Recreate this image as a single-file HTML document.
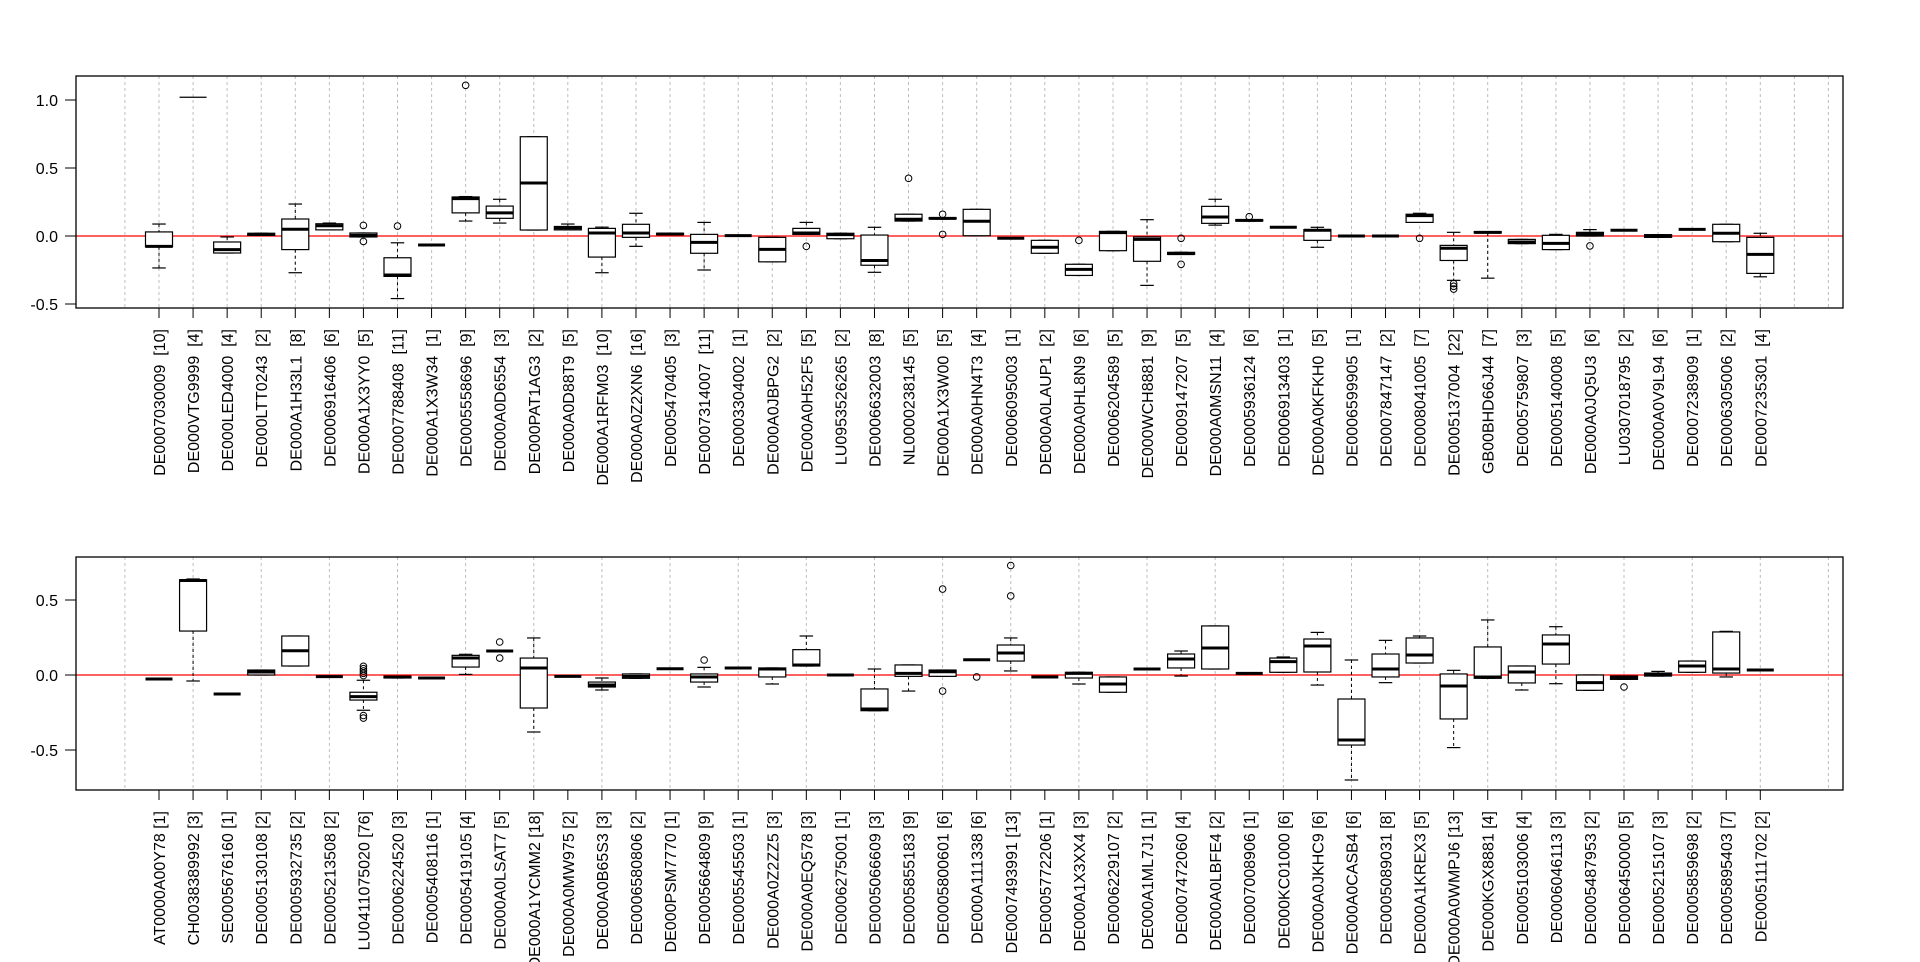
<!DOCTYPE html>
<html><head><meta charset="utf-8"><style>
html,body{margin:0;padding:0;background:#fff;}
svg{display:block;}
text{font-family:"Liberation Sans",Arial,sans-serif;font-size:16px;fill:#000;}
</style></head><body>
<svg id="s" width="1920" height="962" xmlns="http://www.w3.org/2000/svg"></svg>
<script>
var top_=[
["DE0007030009  [10]",-0.235,-0.08,-0.076,0.03,0.088,[]],
["DE000VTG9999  [4]",1.02,1.02,1.02,1.02,1.02,[],1],
["DE000LED4000  [4]",-0.125,-0.125,-0.10,-0.044,-0.007,[]],
["DE000LTT0243  [2]",0.005,0.005,0.012,0.02,0.02,[]],
["DE000A1H33L1  [8]",-0.27,-0.10,0.05,0.125,0.235,[]],
["DE0006916406  [6]",0.045,0.045,0.075,0.09,0.095,[]],
["DE000A1X3YY0  [5]",-0.007,-0.007,0.005,0.022,0.022,[0.078,-0.04]],
["DE0007788408  [11]",-0.46,-0.297,-0.287,-0.16,-0.05,[0.073]],
["DE000A1X3W34  [1]",-0.066,-0.066,-0.066,-0.066,-0.066,[]],
["DE0005558696  [9]",0.11,0.17,0.275,0.287,0.29,[1.108]],
["DE000A0D6554  [3]",0.095,0.13,0.17,0.22,0.27,[]],
["DE000PAT1AG3  [2]",0.044,0.044,0.39,0.73,0.73,[]],
["DE000A0D88T9  [5]",0.045,0.045,0.06,0.07,0.088,[]],
["DE000A1RFM03  [10]",-0.27,-0.155,0.022,0.056,0.065,[]],
["DE000A0Z2XN6  [16]",-0.076,-0.01,0.022,0.086,0.167,[]],
["DE0005470405  [3]",0.01,0.01,0.015,0.02,0.02,[]],
["DE0007314007  [11]",-0.25,-0.127,-0.047,0.012,0.1,[]],
["DE0003304002  [1]",0.003,0.003,0.003,0.003,0.003,[]],
["DE000A0JBPG2  [2]",-0.19,-0.19,-0.098,-0.01,-0.01,[]],
["DE000A0H52F5  [5]",0.012,0.012,0.022,0.056,0.1,[-0.076]],
["LU0953526265  [2]",-0.02,-0.02,0.01,0.02,0.02,[]],
["DE0006632003  [8]",-0.267,-0.215,-0.18,0.007,0.064,[]],
["NL0000238145  [5]",0.11,0.11,0.123,0.16,0.16,[0.424]],
["DE000A1X3W00  [5]",0.125,0.125,0.13,0.135,0.135,[0.16,0.012]],
["DE000A0HN4T3  [4]",0.002,0.002,0.108,0.196,0.196,[]],
["DE0006095003  [1]",-0.017,-0.017,-0.017,-0.017,-0.017,[]],
["DE000A0LAUP1  [2]",-0.127,-0.127,-0.083,-0.032,-0.032,[]],
["DE000A0HL8N9  [6]",-0.29,-0.29,-0.245,-0.208,-0.208,[-0.032]],
["DE0006204589  [5]",-0.108,-0.108,0.025,0.034,0.034,[]],
["DE000WCH8881  [9]",-0.363,-0.186,-0.025,-0.007,0.12,[]],
["DE0009147207  [5]",-0.135,-0.135,-0.13,-0.12,-0.12,[-0.017,-0.208]],
["DE000A0MSN11  [4]",0.08,0.093,0.14,0.218,0.27,[]],
["DE0005936124  [6]",0.11,0.11,0.115,0.12,0.12,[0.142]],
["DE0006913403  [1]",0.064,0.064,0.064,0.064,0.064,[]],
["DE000A0KFKH0  [5]",-0.083,-0.032,0.042,0.047,0.064,[]],
["DE0006599905  [1]",0,0,0,0,0,[]],
["DE0007847147  [2]",0,0,0,0,0,[]],
["DE0008041005  [7]",0.1,0.1,0.15,0.16,0.167,[-0.017]],
["DE0005137004  [22]",-0.326,-0.18,-0.09,-0.069,0.027,[-0.35,-0.37,-0.39]],
["GB00BHD66J44  [7]",-0.31,0.022,0.027,0.032,0.032,[]],
["DE0005759807  [3]",-0.056,-0.056,-0.044,-0.025,-0.025,[]],
["DE0005140008  [5]",-0.1,-0.1,-0.054,0.005,0.012,[]],
["DE000A0JQ5U3  [6]",0,0,0.015,0.027,0.047,[-0.073]],
["LU0307018795  [2]",0.042,0.042,0.042,0.042,0.042,[]],
["DE000A0V9L94  [6]",-0.01,-0.01,0,0.01,0.01,[]],
["DE0007238909  [1]",0.049,0.049,0.049,0.049,0.049,[]],
["DE0006305006  [2]",-0.042,-0.042,0.02,0.086,0.086,[]],
["DE0007235301  [4]",-0.3,-0.275,-0.135,-0.01,0.02,[]]
];
var bot=[
["AT0000A00Y78 [1]",-0.027,-0.027,-0.027,-0.027,-0.027,[]],
["CH0038389992 [3]",-0.04,0.293,0.63,0.635,0.64,[]],
["SE0005676160 [1]",-0.127,-0.127,-0.127,-0.127,-0.127,[]],
["DE0005130108 [2]",0,0,0.02,0.033,0.033,[]],
["DE0005932735 [2]",0.06,0.06,0.162,0.26,0.26,[]],
["DE0005213508 [2]",-0.011,-0.011,-0.011,-0.011,-0.011,[]],
["LU0411075020 [76]",-0.235,-0.167,-0.144,-0.115,-0.035,[0.058,0.042,0.027,0.011,-0.004,-0.27,-0.287]],
["DE0006224520 [3]",-0.02,-0.02,-0.013,-0.008,-0.008,[]],
["DE0005408116 [1]",-0.02,-0.02,-0.02,-0.02,-0.02,[]],
["DE0005419105 [4]",0.004,0.053,0.113,0.131,0.138,[]],
["DE000A0LSAT7 [5]",0.16,0.16,0.16,0.16,0.16,[0.22,0.113]],
["DE000A1YCMM2 [18]",-0.38,-0.22,0.047,0.113,0.247,[]],
["DE000A0MW975 [2]",-0.009,-0.009,-0.009,-0.009,-0.009,[]],
["DE000A0B65S3 [3]",-0.1,-0.08,-0.067,-0.047,-0.02,[]],
["DE0006580806 [2]",-0.022,-0.022,-0.009,0.007,0.007,[]],
["DE000PSM7770 [1]",0.042,0.042,0.042,0.042,0.042,[]],
["DE0005664809 [9]",-0.08,-0.047,-0.013,0.007,0.051,[0.1]],
["DE0005545503 [1]",0.047,0.047,0.047,0.047,0.047,[]],
["DE000A0Z2ZZ5 [3]",-0.06,-0.013,0.04,0.047,0.047,[]],
["DE000A0EQ578 [3]",0.06,0.06,0.067,0.169,0.26,[]],
["DE0006275001 [1]",0,0,0,0,0,[]],
["DE0005066609 [3]",-0.238,-0.238,-0.227,-0.093,0.04,[]],
["DE0005855183 [9]",-0.107,-0.009,0.011,0.067,0.067,[]],
["DE0005800601 [6]",-0.009,-0.009,0.022,0.033,0.033,[0.573,-0.107]],
["DE000A111338 [6]",0.102,0.102,0.102,0.102,0.102,[-0.013]],
["DE0007493991 [13]",0.027,0.093,0.147,0.2,0.247,[0.73,0.527]],
["DE0005772206 [1]",-0.013,-0.013,-0.013,-0.013,-0.013,[]],
["DE000A1X3XX4 [3]",-0.06,-0.02,0.011,0.018,0.018,[]],
["DE0006229107 [2]",-0.115,-0.115,-0.06,-0.013,-0.013,[]],
["DE000A1ML7J1 [1]",0.04,0.04,0.04,0.04,0.04,[]],
["DE0007472060 [4]",-0.007,0.047,0.107,0.14,0.16,[]],
["DE000A0LBFE4 [2]",0.04,0.04,0.18,0.327,0.327,[]],
["DE0007008906 [1]",0.011,0.011,0.011,0.011,0.011,[]],
["DE000KC01000 [6]",0.018,0.018,0.089,0.113,0.12,[]],
["DE000A0JKHC9 [6]",-0.067,0.02,0.193,0.24,0.284,[]],
["DE000A0CASB4 [6]",-0.7,-0.467,-0.433,-0.16,0.1,[]],
["DE0005089031 [8]",-0.051,-0.013,0.04,0.14,0.231,[]],
["DE000A1KREX3 [5]",0.08,0.08,0.133,0.247,0.26,[]],
["DE000A0WMPJ6 [13]",-0.484,-0.293,-0.073,0.007,0.031,[]],
["DE000KGX8881 [4]",-0.022,-0.022,-0.013,0.187,0.367,[]],
["DE0005103006 [4]",-0.1,-0.053,0.02,0.06,0.06,[]],
["DE0006046113 [3]",-0.058,0.073,0.207,0.267,0.322,[]],
["DE0005487953 [2]",-0.102,-0.102,-0.051,0,0,[]],
["DE0006450000 [5]",-0.029,-0.029,-0.018,-0.007,-0.007,[-0.08]],
["DE0005215107 [3]",-0.007,-0.007,0.004,0.013,0.024,[]],
["DE0005859698 [2]",0.018,0.018,0.06,0.093,0.093,[]],
["DE0005895403 [7]",-0.013,0.013,0.04,0.287,0.291,[]],
["DE0005111702 [2]",0.033,0.033,0.033,0.033,0.033,[]]
];
var svg=document.getElementById("s"),out=[];
function X(i){return 159+i*34.07;}
function panel(data,y0,sc,top,bottom,ticks,gridStep,labY){
  var L=76,R=1843;
  for(var g=-1;g<=49;g+=gridStep){var gx=X(g).toFixed(1);out.push('<line x1="'+gx+'" x2="'+gx+'" y1="'+top+'" y2="'+bottom+'" stroke="#bdbdbd" stroke-dasharray="3,3"/>');}
  out.push('<line x1="'+L+'" x2="'+R+'" y1="'+y0+'" y2="'+y0+'" stroke="#f00" stroke-width="1.3"/>');
  ticks.forEach(function(t){var y=(y0-sc*t).toFixed(1);
    out.push('<line x1="65" x2="'+L+'" y1="'+y+'" y2="'+y+'" stroke="#000"/>');
    out.push('<text x="58" y="'+(y0-sc*t+6).toFixed(1)+'" text-anchor="end">'+t.toFixed(1)+'</text>');});
  data.forEach(function(d,i){
    var x=X(i),Y=function(v){return y0-sc*v;},w=13.5,c=6.75;
    var wl=Y(d[1]),q1=Y(d[2]),md=Y(d[3]),q3=Y(d[4]),wh=Y(d[5]);
    if(wh<q3-0.5){out.push('<line x1="'+x+'" x2="'+x+'" y1="'+wh+'" y2="'+q3+'" stroke="#000" stroke-dasharray="3,3"/>');}
    if(wl>q1+0.5){out.push('<line x1="'+x+'" x2="'+x+'" y1="'+q1+'" y2="'+wl+'" stroke="#000" stroke-dasharray="3,3"/>');}
    if(!d[7]){
    out.push('<line x1="'+(x-c)+'" x2="'+(x+c)+'" y1="'+wh+'" y2="'+wh+'" stroke="#000" stroke-width="1.2"/>');
    out.push('<line x1="'+(x-c)+'" x2="'+(x+c)+'" y1="'+wl+'" y2="'+wl+'" stroke="#000" stroke-width="1.2"/>');}
    if(q1-q3>0.5)out.push('<rect x="'+(x-w)+'" y="'+q3+'" width="'+(2*w)+'" height="'+(q1-q3)+'" fill="#fff" stroke="#000" stroke-width="1.2"/>');
    out.push('<line x1="'+(x-w)+'" x2="'+(x+w)+'" y1="'+md+'" y2="'+md+'" stroke="#000" stroke-width="'+(d[7]?1.3:3)+'"/>');
    d[6].forEach(function(o){out.push('<circle cx="'+x+'" cy="'+Y(o)+'" r="3.3" fill="none" stroke="#000"/>');});
    out.push('<line x1="'+x+'" x2="'+x+'" y1="'+bottom+'" y2="'+(bottom+10)+'" stroke="#000"/>');
    out.push('<text transform="translate('+(x+6).toFixed(1)+','+labY+') rotate(-90)" text-anchor="end" xml:space="preserve">'+d[0]+'</text>');
  });
  out.push('<rect x="'+L+'" y="'+top+'" width="'+(R-L)+'" height="'+(bottom-top)+'" fill="none" stroke="#000" stroke-width="1.3"/>');
}
panel(top_,236,136,76,308,[1.0,0.5,0.0,-0.5],1,329);
panel(bot,675,150,557,790,[0.5,0.0,-0.5],2,811);
svg.innerHTML=out.join("");
</script>
</body></html>
